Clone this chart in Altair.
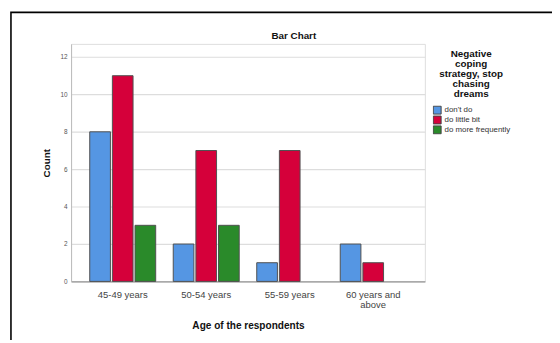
import altair as alt
import pandas as pd

ages = ["45-49 years", "50-54 years", "55-59 years", "60 years and above"]
groups = ["don't do", "do little bit", "do more frequently"]
dont_do = [8, 2, 1, 2]
little_bit = [11, 7, 7, 1]
more_freq = [3, 3, None, None]
colors = ["#5596E3", "#D5003A", "#2A8A2A"]
chart_title = "Bar Chart"

rows = []
for i, a in enumerate(ages):
    for g, vals in zip(groups, [dont_do, little_bit, more_freq]):
        if vals[i] is not None:
            rows.append({"age": a, "group": g, "count": vals[i]})
df = pd.DataFrame(rows)

FONT = "Liberation Sans"

bars = alt.Chart(df).mark_bar(stroke="#505050", strokeWidth=1).encode(
    x=alt.X("age:N", sort=ages,
            scale=alt.Scale(domain=ages, paddingInner=0.21, paddingOuter=0.2235),
            axis=alt.Axis(title="Age of the respondents", labelAngle=0,
                          labelExpr="datum.label == '60 years and above' ? ['60 years and', 'above'] : datum.label",
                          labelFontSize=9.6, labelColor="#444444", labelFont=FONT,
                          labelPadding=8, labelLineHeight=10, ticks=False,
                          domainColor="#999999", domainWidth=1.2,
                          titleFont=FONT, titleFontSize=10.2, titleFontWeight="bold",
                          titleColor="#111111", titlePadding=12)),
    xOffset=alt.XOffset("group:N", sort=groups,
                        scale=alt.Scale(domain=groups, paddingInner=0.087, paddingOuter=0)),
    y=alt.Y("count:Q", scale=alt.Scale(domain=[0, 12.7], nice=False),
            axis=alt.Axis(title="Count", values=[0, 2, 4, 6, 8, 10, 12],
                          labelFontSize=6.5, labelColor="#555555", labelFont=FONT,
                          labelPadding=4, ticks=False,
                          domainColor="#bbbbbb", domainWidth=1,
                          gridColor="#dddddd", gridWidth=1.2,
                          titleFont=FONT, titleFontSize=10, titleFontWeight="bold",
                          titleColor="#111111", titlePadding=9)),
    color=alt.Color("group:N", sort=groups,
                    scale=alt.Scale(domain=groups, range=colors),
                    legend=alt.Legend(
                        title=["Negative", "coping", "strategy, stop", "chasing", "dreams"],
                        orient="none", legendX=367, legendY=5,
                        titleAlign="center", titleAnchor="middle",
                        titleFont=FONT, titleFontSize=10, titleFontWeight="bold",
                        titleColor="#111111", titleLineHeight=10.3, titlePadding=6,
                        labelFont=FONT, labelFontSize=8, labelColor="#333333",
                        labelOffset=3, clipHeight=10,
                        symbolType="square", symbolSize=64, symbolStrokeColor="#444444",
                        symbolStrokeWidth=1, symbolOpacity=1, rowPadding=0)),
)

frame = alt.Chart(alt.Data(values=[{}])).mark_rect(
    fill=None, stroke="#000000", strokeWidth=1.6
).encode(x=alt.value(-61), x2=alt.value(520), y=alt.value(-32), y2=alt.value(330))

title = alt.Chart(alt.Data(values=[{"t": chart_title}])).mark_text(
    font=FONT, fontSize=10, fontWeight="bold", color="#111111",
    align="center", baseline="middle"
).encode(text="t:N", x=alt.value(226), y=alt.value(-8))

chart = alt.layer(bars, frame, title).properties(
    width=359, height=241,
    autosize=alt.AutoSizeParams(type="none"),
    padding={"left": 64, "top": 34, "right": 129, "bottom": 57},
).configure_view(stroke=None).configure(background="white")

chart.save("out.html", embed_options={"renderer": "svg", "actions": False})
